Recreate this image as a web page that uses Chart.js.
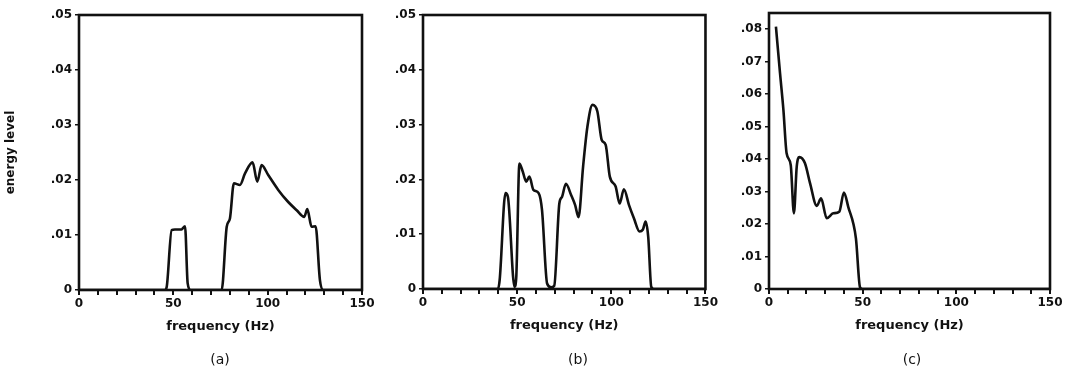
<!DOCTYPE html>
<html>
<head>
<meta charset="utf-8">
<script src="https://cdn.jsdelivr.net/npm/chart.js@4/dist/chart.umd.min.js"></script>
<style>
  body { margin: 0; background: #fff; width: 1072px; height: 381px; position: relative; overflow: hidden; }
  canvas { position: absolute; top: 0; }
  .cap { position: absolute; top: 351px; font: 14px "DejaVu Sans", sans-serif; color: #111; transform: translateX(-50%); }
</style>
</head>
<body>
<canvas id="chart-a" width="380" height="381" style="left:0"></canvas>
<canvas id="chart-b" width="340" height="381" style="left:380px"></canvas>
<canvas id="chart-c" width="352" height="381" style="left:720px"></canvas>
<div class="cap" style="left:220px">(a)</div>
<div class="cap" style="left:578px">(b)</div>
<div class="cap" style="left:912px">(c)</div>
<script>
// spectrum (a)
const freqA = [0, 45.5, 46.5, 49.1, 50.8, 54.3, 56.2, 57.6, 59.2, 75.6, 78.3, 80, 82.1, 85.3, 88, 92, 94.5, 96.8, 100.3,
  105.6, 110.9, 115.4, 119.4, 121, 123.3, 125.4, 127.7, 129.5, 150];
const energyA = [0, 0, 0.0006, 0.0109, 0.011, 0.011, 0.0116, 0.0012, 0, 0, 0.0115, 0.013, 0.0194, 0.0191, 0.0212, 0.0232, 0.0197, 0.0227, 0.0209,
  0.0182, 0.016, 0.0145, 0.0133, 0.0147, 0.0115, 0.0116, 0.0018, 0, 0];

// spectrum (b)
const freqB = [0, 39.8, 40.7, 43.8, 45.1, 48.6, 49.5, 51.2, 53, 54.8, 56.5, 58.6, 61.4, 63.2, 65.9, 68, 69.7, 72.4, 73.8, 75.9,
  78.6, 80.8, 82.6, 85, 87.3, 90, 92.6, 94.9, 97, 99.2, 102.3, 104.4, 106.7, 109.4, 112, 115, 116.7, 118.2, 119.6, 121.2, 122.5, 150];
const energyB = [0, 0, 0.0016, 0.0175, 0.0168, 0.0004, 0.002, 0.0229, 0.0214, 0.0196, 0.0205, 0.0181, 0.0175, 0.0144, 0.001, 0.0003, 0.0006, 0.0156, 0.0168, 0.0192,
  0.0172, 0.0153, 0.0131, 0.0223, 0.0296, 0.0336, 0.0324, 0.0272, 0.0263, 0.0205, 0.0187, 0.0156, 0.0182, 0.0153, 0.0129, 0.0105, 0.0108, 0.0123, 0.0095, 0.0004, 0, 0];

// spectrum (c)
const freqC = [3.7, 5.9, 7.7, 9.4, 11.6, 13.3, 14.8, 16.2, 19.2, 21.9, 25.5, 27.8, 30.8, 34.3, 37.5, 40, 42.3, 46.4, 48.6, 50, 150];
const energyC = [0.0808, 0.0664, 0.0551, 0.0418, 0.0382, 0.0233, 0.0377, 0.0406, 0.0387, 0.0326, 0.0256, 0.0279, 0.0218, 0.0233, 0.0238, 0.0297, 0.0253, 0.0156, 0.0005, 0, 0];

const xLabels = [0, 50, 100, 150];
const xTitle = "frequency (Hz)";
const yTitle = "energy level";

const ink = "#111";
const fontFam = '"DejaVu Sans", sans-serif';

// box around the plot area
const frame = {
  id: "frame",
  afterDraw(chart) {
    const { ctx, chartArea: a } = chart;
    ctx.save();
    ctx.strokeStyle = ink;
    ctx.lineWidth = 2.6;
    ctx.strokeRect(a.left, a.top, a.right - a.left, a.bottom - a.top);
    ctx.restore();
  },
};

function makePanel(id, freq, energy, yMax, box) {
  return new Chart(document.getElementById(id), {
    type: "line",
    data: {
      datasets: [{
        data: freq.map((f, i) => ({ x: f, y: energy[i] })),
        borderColor: ink,
        borderWidth: 2.6,
        pointRadius: 0,
        cubicInterpolationMode: "monotone",
        fill: false,
      }],
    },
    options: {
      responsive: false,
      animation: false,
      events: [],
      layout: { padding: { top: box.top, right: box.right, bottom: box.bottom, left: 0 } },
      plugins: { legend: { display: false }, tooltip: { enabled: false } },
      scales: {
        x: {
          type: "linear",
          min: 0,
          max: 150,
          afterFit: (s) => { s.height = 50; },
          border: { display: false },
          grid: { drawOnChartArea: false, drawTicks: true, tickLength: 5, color: ink, lineWidth: 2 },
          ticks: {
            stepSize: 10,
            autoSkip: false,
            maxRotation: 0,
            padding: 2,
            color: ink,
            font: { family: fontFam, size: 12, weight: "bold" },
            callback: (v) => (xLabels.includes(v) ? String(v) : ""),
          },
          title: {
            display: true,
            text: xTitle,
            color: ink,
            font: { family: fontFam, size: 13, weight: "bold" },
            padding: { top: 0, bottom: 6 },
          },
        },
        y: {
          min: 0,
          max: yMax,
          afterFit: (s) => { s.width = box.yWidth; },
          border: { display: false },
          grid: { drawOnChartArea: false, drawTicks: true, tickLength: 4, color: ink, lineWidth: 1.5 },
          ticks: {
            stepSize: 0.01,
            includeBounds: false,
            padding: 3,
            color: ink,
            font: { family: fontFam, size: 12, weight: "bold" },
            callback: (v) => (v === 0 ? "0" : v.toFixed(2).replace(/^0/, "")),
          },
          title: {
            display: !!box.yTitle,
            text: yTitle,
            color: ink,
            font: { family: fontFam, size: 12, weight: "bold" },
            padding: { top: 4, bottom: 0 },
          },
        },
      },
    },
    plugins: [frame],
  });
}

makePanel("chart-a", freqA, energyA, 0.05, { top: 15, right: 18, bottom: 41, yWidth: 79, yTitle: true });
makePanel("chart-b", freqB, energyB, 0.05, { top: 15, right: 13, bottom: 42, yWidth: 43 });
makePanel("chart-c", freqC, energyC, 0.085, { top: 13, right: 22, bottom: 42, yWidth: 49 });
</script>
</body>
</html>
